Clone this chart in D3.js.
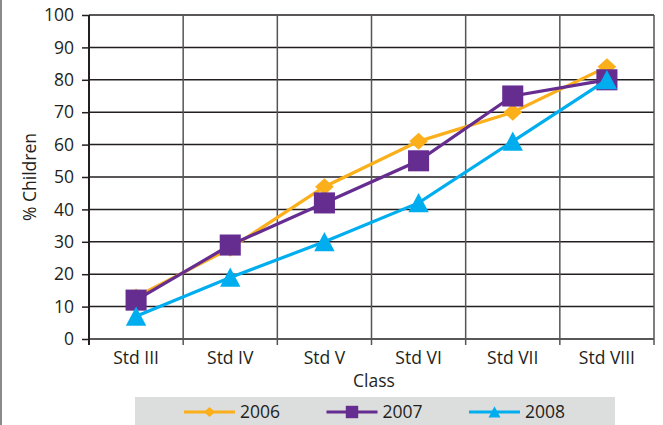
<!DOCTYPE html>
<html>
<head>
<meta charset="utf-8">
<script src="https://cdn.jsdelivr.net/npm/d3@7"></script>
<style>
  body { margin: 0; background: #fff; }
  svg { display: block; font-family: "Open Sans", "Noto Sans", sans-serif; }
</style>
</head>
<body>
<div id="chart"></div>
<script>
const classes = ['Std III', 'Std IV', 'Std V', 'Std VI', 'Std VII', 'Std VIII'];
const values2006 = [13, 28, 47, 61, 70, 84];
const values2007 = [12, 29, 42, 55, 75, 80];
const values2008 = [7, 19, 30, 42, 61, 80];
const yTicks = [0, 10, 20, 30, 40, 50, 60, 70, 80, 90, 100];

const width = 663;
const height = 425;
const margin = { left: 89, right: 9, top: 15, bottom: 86 };
const fontSize = 17.5;

const series = [
    { name: '2006', values: values2006, color: '#fbaf1b', symbol: 'diamond' },
    { name: '2007', values: values2007, color: '#662d91', symbol: 'square' },
    { name: '2008', values: values2008, color: '#00aeef', symbol: 'triangle' }
];

const svg = d3.select('#chart')
    .append('svg')
    .attr('width', width)
    .attr('height', height);

// left page border
svg.append('line')
    .attr('x1', 1).attr('x2', 1)
    .attr('y1', 0).attr('y2', height)
    .attr('stroke', '#8a8a8a')
    .attr('stroke-width', 2);

const x = d3.scaleBand()
    .domain(classes)
    .range([margin.left, width - margin.right]);

const y = d3.scaleLinear()
    .domain([0, 100])
    .range([height - margin.bottom, margin.top]);

const cx = d => x(d) + x.bandwidth() / 2;

// horizontal gridlines
svg.append('g')
    .selectAll('line')
    .data(yTicks)
    .enter()
    .append('line')
    .attr('x1', margin.left)
    .attr('x2', width - margin.right)
    .attr('y1', d => y(d))
    .attr('y2', d => y(d))
    .attr('stroke', '#231f20')
    .attr('stroke-width', 1.5);

// vertical gridlines at category boundaries
const bounds = classes.map(c => x(c)).concat([x.range()[1]]);
svg.append('g')
    .selectAll('line')
    .data(bounds)
    .enter()
    .append('line')
    .attr('x1', d => d)
    .attr('x2', d => d)
    .attr('y1', margin.top)
    .attr('y2', y(0) + 6)
    .attr('stroke', (d, i) => i === 0 ? '#231f20' : '#555')
    .attr('stroke-width', (d, i) => i === 0 ? 2 : 1.5);

// y axis
const yAxis = svg.append('g')
    .attr('transform', `translate(${margin.left},0)`)
    .call(d3.axisLeft(y).tickValues(yTicks).tickSize(7).tickPadding(8));
yAxis.select('.domain').remove();
yAxis.selectAll('line').attr('stroke', '#231f20').attr('stroke-width', 1.5);
yAxis.selectAll('text')
    .attr('font-size', fontSize)
    .attr('fill', '#231f20')
    .attr('font-family', '"Open Sans", sans-serif');

// x labels
svg.append('g')
    .selectAll('text')
    .data(classes)
    .enter()
    .append('text')
    .attr('x', d => cx(d))
    .attr('y', 364)
    .attr('text-anchor', 'middle')
    .attr('font-size', fontSize)
    .attr('fill', '#231f20')
    .text(d => d);

svg.append('text')
    .attr('x', 374)
    .attr('y', 387)
    .attr('text-anchor', 'middle')
    .attr('font-size', fontSize)
    .attr('fill', '#231f20')
    .text('Class');

svg.append('text')
    .attr('transform', `translate(36,${(margin.top + y(0)) / 2}) rotate(-90)`)
    .attr('text-anchor', 'middle')
    .attr('font-size', fontSize)
    .attr('fill', '#231f20')
    .text('% Children');

function markerPath(type, s) {
    if (type === 'diamond') {
        const w = s * 0.55, h = s * 0.5;
        return `M0,${-h}L${w},0L0,${h}L${-w},0Z`;
    }
    if (type === 'square') {
        const h = s * 0.62;
        return `M${-h},${-h}H${h}V${h}H${-h}Z`;
    }
    const w = s * 0.6, h = s * 0.58;
    return `M0,${-h}L${w},${h * 0.95}L${-w},${h * 0.95}Z`;
}

const line = d3.line()
    .x((d, i) => cx(classes[i]))
    .y(d => y(d));

series.forEach(s => {
    const g = svg.append('g');
    g.append('path')
        .attr('d', line(s.values))
        .attr('fill', 'none')
        .attr('stroke', s.color)
        .attr('stroke-width', 3.2);
    g.selectAll('path.mark')
        .data(s.values)
        .enter()
        .append('path')
        .attr('class', 'mark')
        .attr('transform', (d, i) => `translate(${cx(classes[i])},${y(d)})`)
        .attr('d', markerPath(s.symbol, 17))
        .attr('fill', s.color);
});

// legend
const legend = svg.append('g');
legend.append('rect')
    .attr('x', 135).attr('y', 397)
    .attr('width', 480).attr('height', 28)
    .attr('fill', '#dcdddd');

const legendX = d3.scalePoint()
    .domain(series.map(s => s.name))
    .range([184, 469]);

series.forEach(s => {
    const lx = legendX(s.name);
    const ly = 412;
    legend.append('line')
        .attr('x1', lx).attr('x2', lx + 51)
        .attr('y1', ly).attr('y2', ly)
        .attr('stroke', s.color)
        .attr('stroke-width', 3);
    legend.append('path')
        .attr('transform', `translate(${lx + 25.5},${ly})`)
        .attr('d', markerPath(s.symbol, 10))
        .attr('fill', s.color);
    legend.append('text')
        .attr('x', lx + 56)
        .attr('y', ly + 6)
        .attr('font-size', fontSize)
        .attr('fill', '#231f20')
        .text(s.name);
});
</script>
</body>
</html>
